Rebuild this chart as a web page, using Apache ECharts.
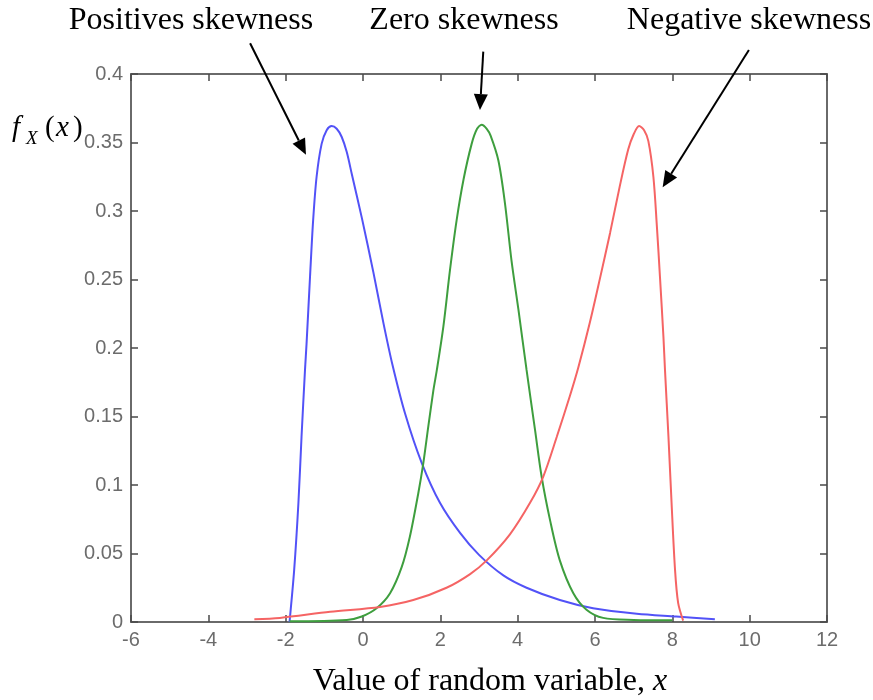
<!DOCTYPE html>
<html>
<head>
<meta charset="utf-8">
<script src="https://cdn.jsdelivr.net/npm/echarts@6/dist/echarts.min.js"></script>
<style>html,body{margin:0;padding:0;background:#fff}#c{width:873px;height:700px}</style>
</head>
<body>
<div id="c"></div>
<script>
// ---- data ----
const xTicks = [-6, -4, -2, 0, 2, 4, 6, 8, 10, 12];
const yTicks = [0, 0.05, 0.1, 0.15, 0.2, 0.25, 0.3, 0.35, 0.4];
const seriesNames = ['Positives skewness', 'Zero skewness', 'Negative skewness'];

const positiveSkew = [
  [-1.90,0.000],[-1.78,0.038],[-1.67,0.087],[-1.59,0.135],[-1.50,0.184],[-1.46,0.203],
  [-1.37,0.252],[-1.29,0.293],[-1.20,0.325],[-1.07,0.349],[-0.94,0.359],[-0.81,0.362],
  [-0.68,0.360],[-0.55,0.354],[-0.42,0.343],[-0.29,0.327],[-0.03,0.295],[0.27,0.255],
  [0.53,0.218],[0.76,0.188],[1.09,0.152],[1.52,0.116],[1.99,0.087],[2.51,0.065],[3.00,0.049],
  [3.63,0.034],[4.23,0.025],[5.09,0.016],[5.95,0.010],[7.08,0.006],[8.10,0.004],[9.10,0.002]
];
const zeroSkew = [
  [-1.90,0.0005],[-0.42,0.0015],[-0.03,0.004],[0.35,0.010],[0.70,0.021],[1.00,0.040],
  [1.21,0.062],[1.43,0.094],[1.56,0.116],[1.69,0.143],[1.82,0.169],[1.91,0.184],
  [2.08,0.216],[2.25,0.257],[2.42,0.293],[2.60,0.323],[2.81,0.349],[2.95,0.360],
  [3.07,0.363],[3.20,0.360],[3.30,0.355],[3.50,0.337],[3.67,0.306],[3.84,0.264],
  [4.02,0.228],[4.23,0.184],[4.45,0.140],[4.62,0.106],[4.84,0.074],[5.09,0.045],
  [5.44,0.021],[5.78,0.009],[6.21,0.003],[7.00,0.0015],[8.00,0.0012]
];
const negativeSkew = [
  [-2.81,0.002],[-2.15,0.003],[-0.85,0.0075],[0.44,0.011],[1.30,0.016],[2.16,0.025],
  [2.77,0.035],[3.20,0.045],[3.80,0.064],[4.32,0.087],[4.66,0.106],[5.01,0.135],
  [5.35,0.165],[5.57,0.186],[5.87,0.219],[6.13,0.251],[6.39,0.284],[6.64,0.318],
  [6.86,0.345],[7.00,0.356],[7.14,0.362],[7.27,0.359],[7.38,0.351],[7.51,0.325],
  [7.60,0.289],[7.68,0.252],[7.77,0.208],[7.81,0.184],[7.90,0.135],[7.98,0.087],
  [8.07,0.038],[8.15,0.014],[8.28,0.001]
];
// annotation arrows: [startX, startY, tipX, tipY] in data units
const arrowPositive = [-2.92, 0.4224, -1.475, 0.341];
const arrowZero = [3.11, 0.4163, 3.025, 0.3737];
const arrowNegative = [9.98, 0.4175, 7.75, 0.3173];

const chart = echarts.init(document.getElementById('c'), null, {renderer: 'canvas'});

const axisLineStyle = {color: '#6a6a6a', width: 2};
const tickStyle = {color: '#4a4a4a', width: 1.5};
const labelStyle = {color: '#6c6c6c', fontSize: 20, fontFamily: 'Liberation Sans'};
function fmt(v) { return String(Math.round(v * 100) / 100); }

function mkX(pos, showLabel) {
  return {
    type: 'value', min: xTicks[0], max: xTicks[xTicks.length - 1], interval: 2, position: pos,
    axisLine: {show: true, onZero: false, lineStyle: axisLineStyle},
    axisTick: {show: true, inside: true, length: 7, lineStyle: tickStyle},
    axisLabel: Object.assign({show: showLabel, margin: 8, formatter: fmt}, labelStyle),
    splitLine: {show: false}
  };
}
function mkY(pos, showLabel) {
  return {
    type: 'value', min: yTicks[0], max: yTicks[yTicks.length - 1], interval: 0.05, position: pos,
    axisLine: {show: true, onZero: false, lineStyle: axisLineStyle},
    axisTick: {show: true, inside: true, length: 7, lineStyle: tickStyle},
    axisLabel: Object.assign({show: showLabel, margin: 8, formatter: fmt}, labelStyle),
    splitLine: {show: false}
  };
}

function mkSeries(name, data, color) {
  return {
    name: name, type: 'line', data: data, showSymbol: false, smooth: 0.3,
    xAxisIndex: 0, yAxisIndex: 0,
    lineStyle: {color: color, width: 2}, itemStyle: {color: color}, z: 3, silent: true
  };
}

chart.setOption({
  animation: false,
  backgroundColor: '#ffffff',
  grid: {left: 131, right: 46, top: 74, bottom: 78, containLabel: false},
  xAxis: [mkX('bottom', true), mkX('top', false)],
  yAxis: [mkY('left', true), mkY('right', false)],
  series: [
    mkSeries(seriesNames[0], positiveSkew, '#5252f7'),
    mkSeries(seriesNames[1], zeroSkew, '#3e9e3e'),
    mkSeries(seriesNames[2], negativeSkew, '#f56464')
  ]
});

function arrowGraphics(a) {
  const p0 = chart.convertToPixel({gridIndex: 0}, [a[0], a[1]]);
  const p1 = chart.convertToPixel({gridIndex: 0}, [a[2], a[3]]);
  const dx = p1[0] - p0[0], dy = p1[1] - p0[1];
  const L = Math.sqrt(dx * dx + dy * dy);
  const ux = dx / L, uy = dy / L;
  const hl = 16, hw = 7;
  const bx = p1[0] - ux * hl, by = p1[1] - uy * hl;
  return [
    {type: 'line', shape: {x1: p0[0], y1: p0[1], x2: bx, y2: by},
     style: {stroke: '#000', lineWidth: 2}, z: 10},
    {type: 'polygon', shape: {points: [[p1[0], p1[1]], [bx - uy * hw, by + ux * hw], [bx + uy * hw, by - ux * hw]]},
     style: {fill: '#000'}, z: 10}
  ];
}

const serif = 'Liberation Serif';
const titleStyle = {fontSize: 32, fontFamily: serif, fill: '#000', textAlign: 'center', textVerticalAlign: 'middle'};
const graphics = [
  {type: 'text', x: 191, y: 21, style: Object.assign({text: seriesNames[0]}, titleStyle)},
  {type: 'text', x: 464, y: 21, style: Object.assign({text: seriesNames[1]}, titleStyle)},
  {type: 'text', x: 749, y: 21, style: Object.assign({text: seriesNames[2]}, titleStyle)},
  {type: 'text', x: 490, y: 682, style: {
    text: '{a|Value of random variable, }{b|x}',
    rich: {a: {fontSize: 32, fontFamily: serif, fill: '#000'}, b: {fontSize: 32, fontFamily: serif, fontStyle: 'italic', fill: '#000'}},
    textAlign: 'center', textVerticalAlign: 'middle'}},
  {type: 'text', x: 12, y: 128, style: {text: 'f', fontSize: 29, fontFamily: serif, fontStyle: 'italic', fill: '#000', textAlign: 'left', textVerticalAlign: 'middle'}},
  {type: 'text', x: 26, y: 139, style: {text: 'X', fontSize: 19, fontFamily: serif, fontStyle: 'italic', fill: '#000', textAlign: 'left', textVerticalAlign: 'middle'}},
  {type: 'text', x: 45, y: 128, style: {text: '(', fontSize: 29, fontFamily: serif, fill: '#000', textAlign: 'left', textVerticalAlign: 'middle'}},
  {type: 'text', x: 56, y: 128, style: {text: 'x', fontSize: 29, fontFamily: serif, fontStyle: 'italic', fill: '#000', textAlign: 'left', textVerticalAlign: 'middle'}},
  {type: 'text', x: 73, y: 128, style: {text: ')', fontSize: 29, fontFamily: serif, fill: '#000', textAlign: 'left', textVerticalAlign: 'middle'}}
].concat(arrowGraphics(arrowPositive), arrowGraphics(arrowZero), arrowGraphics(arrowNegative));

chart.setOption({graphic: graphics});
</script>
</body>
</html>
